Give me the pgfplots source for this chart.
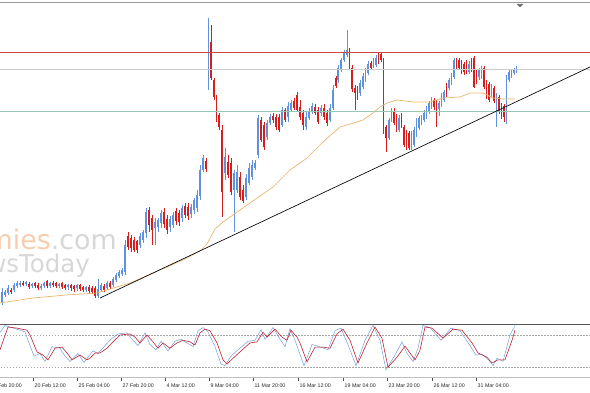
\documentclass[border=0pt]{standalone}
\usepackage{pgfplots}
\pgfplotsset{compat=1.18}
\usepackage{pgfplotstable}
\usepackage{fontspec}
\setmainfont{Liberation Sans}
\newfontfamily\wmfont{DejaVu Sans}

\definecolor{cblue}{RGB}{95,145,220}
\definecolor{cred}{RGB}{215,30,30}
\definecolor{hred}{RGB}{210,70,70}
\definecolor{hgray}{RGB}{205,205,205}
\definecolor{hgreen}{RGB}{150,200,180}
\definecolor{maorange}{RGB}{235,180,110}
\definecolor{stblue}{RGB}{120,155,220}
\definecolor{stred}{RGB}{190,35,45}
\definecolor{wmorange}{RGB}{247,205,175}
\definecolor{wmgray}{RGB}{215,215,215}

% candles in pixel coordinates: hi/lo = wick, bt/bb = body (y grows downward)
\pgfplotstableread{
x hi lo bt bb
2 288 305 292 303
5 290 297 292 295
8 285 295 288 293
14 283 292 285 290
17 281 288 283 286
20 281 287 283 285
26 281 286 282 284
32 283 288 284 286
41 284 290 286 288
44 282 288 283 286
50 282 288 283 286
59 283 288 284 286
68 284 290 285 287
77 284 291 285 288
86 286 292 287 290
98 279 298 289 296
101 283 292 285 290
107 281 290 283 288
113 277 287 279 285
116 273 282 275 280
119 270 278 272 276
122 268 276 270 274
125 240 275 245 272
140 233 248 236 245
143 230 243 232 240
146 208 238 212 233
155 218 245 222 228
158 218 232 220 227
161 210 228 213 223
170 216 232 219 227
173 212 228 215 225
182 205 222 208 218
191 204 218 207 214
194 198 214 200 210
197 190 212 195 208
200 165 200 170 196
203 155 172 158 170
208.5 18 90 42 82
225 148 180 157 173
234 170 232 173 190
237 165 193 172 190
246 174 200 178 197
249 163 185 168 183
252 160 180 165 177
255 160 170 163 168
258 115 158 118 155
267 120 140 123 137
270 114 125 117 123
282 107 127 110 125
288 102 122 106 117
291 100 112 103 110
306 112 130 117 127
309 108 120 111 118
312 103 114 106 111
321 105 116 108 113
330 104 122 108 120
333 85 110 90 108
338 65 83 68 80
341 58 72 60 70
344 50 62 53 60
347 30 57 50 55
360 80 96 83 93
363 73 89 76 87
365.5 68 82 70 80
368 61 75 64 73
373.5 58 68 60 66
376 55 67 58 65
389 118 140 120 138
391.5 108 122 110 120
399 115 132 118 130
411.5 131 150 133 147
414 127 147 130 145
416.5 118 137 120 135
419 116 130 118 128
421.5 115 125 117 123
424 110 122 113 120
426.5 106 119 108 117
429 101 114 103 112
431.5 97 109 99 107
439 101 116 103 109
441.5 93 107 95 105
444 90 102 92 100
449 78 90 80 88
451.5 73 85 75 83
454 58 79 60 77
469 61 74 64 72
479 68 80 70 77
481.5 66 79 68 77
491.5 84 97 86 95
496.5 93 127 95 110
506.5 75 124 77 117
509 70 82 72 80
511.5 70 78 72 76
514 68 75 70 73
516.5 66 73 68 72
}\bluecandles

\pgfplotstableread{
x hi lo bt bb
11 288 294 290 292
23 281 286 283 285
29 282 289 284 287
35 282 288 283 286
38 283 290 285 288
47 280 288 281 286
53 281 287 283 285
56 282 288 283 286
62 282 289 283 287
65 284 290 285 288
71 284 291 285 288
74 285 292 286 289
80 284 291 285 289
83 286 292 287 290
89 285 293 287 291
92 286 294 288 292
95 286 298 288 296
104 284 292 286 290
110 281 289 283 287
128 232 250 236 247
131 235 252 238 248
134 237 252 240 250
137 240 253 241 250
149 207 232 210 225
152 215 245 218 230
164 208 228 212 224
167 215 234 219 230
176 208 225 211 221
179 210 226 213 222
185 203 218 206 215
188 203 220 207 216
206 158 172 161 169
211 25 80 42 78
214 78 100 80 97
216.5 95 122 97 120
219 113 130 115 127
222 125 217 130 192
228 155 178 162 175
231 158 195 163 192
240 172 200 177 197
243 185 203 190 201
261 117 142 120 140
264 122 150 125 147
273 113 123 116 120
276 114 130 117 127
279 114 132 117 130
285 108 122 110 120
294 98 110 101 108
297 92 112 95 110
300 100 120 107 117
303 110 130 113 125
315 104 115 107 113
318 107 124 110 122
324 104 120 108 117
327 110 126 113 123
336 76 88 78 86
349.5 48 70 51 67
352 65 92 68 89
355 85 110 88 93
357.5 86 100 89 98
371 61 70 63 68
378.5 52 64 55 62
381 52 62 54 60
383.5 58 134 60 132
386 125 152 127 138
394 108 125 111 123
396.5 114 132 117 130
401.5 113 128 116 127
404 125 147 127 145
406.5 130 150 133 148
409 131 150 133 148
434 98 110 100 107
436.5 100 127 103 113
446.5 83 97 85 95
456.5 58 70 60 67
459 58 70 60 68
461.5 60 74 62 72
464 62 75 64 72
466.5 60 74 62 72
471.5 58 72 60 70
474 56 88 58 87
476.5 70 84 72 82
484 66 89 68 87
486.5 80 99 83 97
489 82 102 84 100
494 86 103 88 101
499 95 114 97 112
501.5 103 119 105 117
504 104 122 106 117
}\redcandles

\begin{document}
\begin{tikzpicture}
\useasboundingbox (0,0) rectangle (590bp,393bp);
\clip (0,0) rectangle (590bp,393bp);
% ---------------- price panel ----------------
\begin{axis}[at={(0bp,393bp)}, anchor=north west, x=1bp, y=1bp,
  xmin=0, xmax=590, ymin=0, ymax=322, y dir=reverse, hide axis, clip=false]
  \node[anchor=base east, inner sep=0pt] at (axis cs:117,250)
    {\wmfont\fontsize{27}{27}\selectfont\color{wmorange}Economies\color{wmgray}.com};
  \node[anchor=base east, inner sep=0pt] at (axis cs:90,273)
    {\wmfont\fontsize{24.5}{25}\selectfont\color{wmgray}NewsToday};
  % wicks
  \addplot[draw=none, mark=none, error bars/.cd, y dir=both, y explicit, error mark=none,
    error bar style={line width=0.7bp, draw=cblue}]
    table[x=x, y expr={(\thisrow{hi}+\thisrow{lo})/2}, y error expr={(\thisrow{lo}-\thisrow{hi})/2}] {\bluecandles};
  \addplot[draw=none, mark=none, error bars/.cd, y dir=both, y explicit, error mark=none,
    error bar style={line width=0.7bp, draw=cred}]
    table[x=x, y expr={(\thisrow{hi}+\thisrow{lo})/2}, y error expr={(\thisrow{lo}-\thisrow{hi})/2}] {\redcandles};
  % bodies
  \addplot[draw=none, mark=none, error bars/.cd, y dir=both, y explicit, error mark=none,
    error bar style={line width=1.9bp, draw=cblue}]
    table[x=x, y expr={(\thisrow{bt}+\thisrow{bb})/2}, y error expr={(\thisrow{bb}-\thisrow{bt})/2}] {\bluecandles};
  \addplot[draw=none, mark=none, error bars/.cd, y dir=both, y explicit, error mark=none,
    error bar style={line width=1.9bp, draw=cred}]
    table[x=x, y expr={(\thisrow{bt}+\thisrow{bb})/2}, y error expr={(\thisrow{bb}-\thisrow{bt})/2}] {\redcandles};
  % horizontal levels
  \addplot[hred, line width=0.7bp] coordinates {(0,52) (590,52)};
  \addplot[hgray, line width=0.9bp] coordinates {(0,69) (590,69)};
  \addplot[hgreen, line width=0.8bp] coordinates {(0,111) (590,111)};
  % moving average
  \addplot[maorange, line width=0.7bp] coordinates {
    (0,303) (33,298) (66,295) (97,293) (130,283) (160,270) (185,259) (200,251)
    (207,244) (215,229) (223,222) (233,215) (240,210) (250,203) (273,187) (290,170)
    (300,163) (307,158) (323,142) (340,127) (357,122) (363,120) (373,113) (380,107)
    (387,103) (397,100) (413,102) (430,102) (443,98) (460,97) (470,93) (483,93)
    (493,98) (503,99) (515,99)};
  % trend line
  \addplot[black, line width=0.65bp] coordinates {(100,298) (590,67)};
  % frame
  \draw[black!40, line width=1.6bp] (axis cs:0,2.5) -- (axis cs:590,2.5);
  \fill[black!55] (axis cs:516.5,4) -- (axis cs:523.5,4) -- (axis cs:520,7.5) -- cycle;
\end{axis}
% ---------------- stochastic panel ----------------
\begin{axis}[at={(-20bp,68.6bp)}, anchor=north west, x=1bp, y=0.529bp,
  xmin=-20, xmax=590, ymin=0, ymax=100,
  axis x line*=bottom, axis y line=none, ytick=\empty,
  xtick={-11,33,77,121,165,209,253,298,343,387,432,476},
  xticklabels={18 Feb 20:00,20 Feb 12:00,25 Feb 04:00,27 Feb 20:00,4 Mar 12:00,9 Mar 04:00,11 Mar 20:00,16 Mar 12:00,19 Mar 04:00,23 Mar 20:00,26 Mar 12:00,31 Mar 04:00},
  tick align=outside, major tick length=4bp,
  xtick style={black!70, line width=0.4bp},
  x axis line style={draw=black!25, line width=0.5bp},
  xticklabel style={anchor=north west, font=\fontsize{5.3}{6}\selectfont, inner sep=0pt, xshift=1.5bp, yshift=-2.5bp, text=black!85},
  clip=false]
  \addplot[black!35, line width=0.4bp, dash pattern=on 1.5bp off 1.5bp] coordinates {(-20,80) (590,80)};
  \addplot[black!35, line width=0.4bp, dash pattern=on 1.5bp off 1.5bp] coordinates {(-20,20) (590,20)};
  \addplot[stblue, line width=0.5bp] coordinates {
    (0,85) (5,98) (15,92) (25,86) (28,70) (34,40) (40,45) (45,30) (52,58) (60,55) (65,40) (70,30)
    (78,45) (84,28) (88,38) (93,50) (98,45) (105,60) (111,72) (118,82) (127,84) (133,70) (138,60)
    (145,84) (150,62) (156,52) (161,68) (168,50) (175,68) (181,72) (188,64) (193,58) (198,88)
    (203,94) (208,86) (215,58) (221,25) (225,22) (231,40) (238,52) (248,68) (255,70) (261,90)
    (265,72) (273,94) (280,72) (285,58) (290,92) (295,70) (304,22) (312,62) (321,57) (328,52)
    (335,88) (341,93) (348,62) (356,22) (365,70) (373,98) (380,70) (386,14) (395,42) (402,67)
    (407,45) (413,30) (418,55) (423,98) (430,94) (441,70) (451,93) (460,88) (470,60) (476,42)
    (482,44) (489,32) (493,22) (497,36) (503,30) (510,80) (515,98)};
  \addplot[stred, line width=0.6bp] coordinates {
    (0,52) (8,95) (17,93) (27,89) (30,80) (37,48) (43,42) (48,33) (55,55) (62,57) (67,46) (72,33)
    (80,42) (87,33) (90,36) (95,46) (100,46) (107,55) (113,67) (120,80) (130,82) (135,76) (140,65)
    (147,80) (153,67) (158,55) (163,65) (170,55) (177,65) (183,70) (190,67) (195,61) (200,84)
    (205,91) (210,88) (217,65) (223,33) (227,25) (233,36) (240,48) (250,65) (257,67) (263,85)
    (267,76) (275,91) (282,76) (287,70) (291,89) (297,76) (300,65) (307,29) (315,57) (323,57)
    (330,55) (337,82) (343,91) (350,70) (358,27) (367,65) (375,95) (382,74) (388,19) (397,38)
    (405,59) (415,33) (420,51) (425,95) (432,93) (443,74) (453,91) (462,89) (472,65) (478,46)
    (487,38) (492,27) (498,33) (505,33) (512,70) (515,89)};
  \draw[black!65, line width=1.2bp] (axis cs:-20,100) -- (axis cs:590,100);
\end{axis}
\end{tikzpicture}
\end{document}
